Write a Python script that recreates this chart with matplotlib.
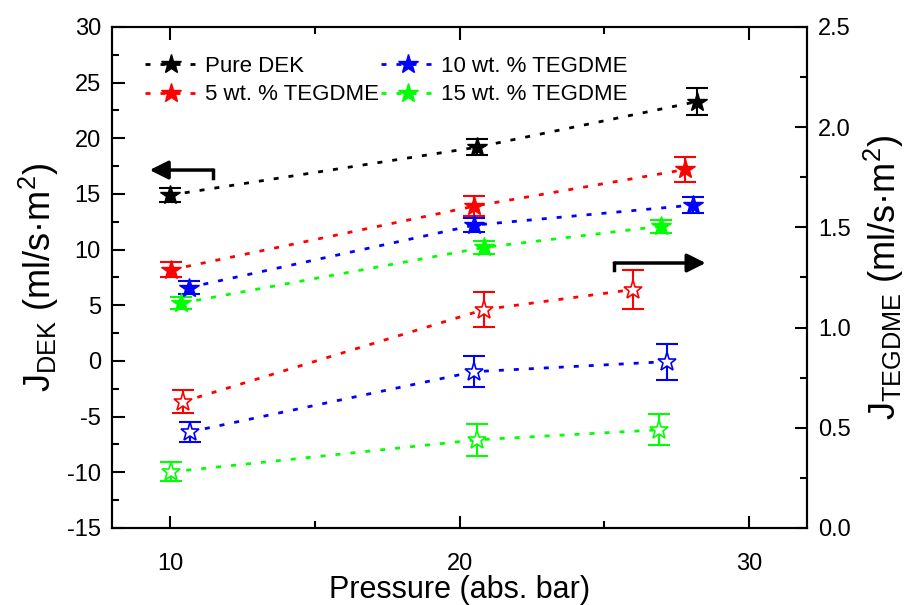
import matplotlib
matplotlib.use("Agg")
import matplotlib.pyplot as plt
from matplotlib.ticker import MultipleLocator

plt.rcParams["font.family"] = ["Liberation Sans", "DejaVu Sans"]
plt.rcParams["mathtext.fontset"] = "custom"
plt.rcParams["mathtext.rm"] = "Liberation Sans"
plt.rcParams["mathtext.default"] = "regular"
plt.rcParams["axes.unicode_minus"] = False

labels = ["Pure DEK", "5 wt. % TEGDME", "10 wt. % TEGDME", "15 wt. % TEGDME"]
colors = ["black", "red", "blue", "#00ff00"]

# DEK flux, filled stars, left axis
p_dek = [[10.0, 20.6, 28.2], [10.05, 20.5, 27.8], [10.65, 20.5, 28.05], [10.4, 20.85, 26.95]]
j_dek = [[14.9, 19.2, 23.3], [8.2, 13.9, 17.2], [6.6, 12.2, 14.0], [5.2, 10.2, 12.1]]
err_dek = [[0.6, 0.7, 1.2], [0.7, 0.9, 1.1], [0.6, 0.6, 0.75], [0.55, 0.6, 0.6]]

# TEGDME flux, open stars, right axis (5, 10, 15 wt. %)
p_teg = [[10.45, 20.85, 26.0], [10.7, 20.5, 27.15], [10.05, 20.6, 26.9]]
j_teg = [[0.63, 1.09, 1.19], [0.48, 0.78, 0.83], [0.28, 0.44, 0.49]]
err_teg = [[0.057, 0.087, 0.095], [0.05, 0.077, 0.09], [0.047, 0.08, 0.077]]

fig = plt.figure(figsize=(9.12, 6.05), dpi=100)
ax = fig.add_axes([0.1228, 0.1273, 0.7621, 0.8281])
ax2 = ax.twinx()

dots = (1.8, 3.6)

for p, j, e, c, lab in zip(p_dek, j_dek, err_dek, colors, labels):
    ax.errorbar(p, j, yerr=e, fmt="none", ecolor=c, elinewidth=1.5,
                capsize=8, capthick=1.5, zorder=3)
    ax.plot(p, j, color=c, lw=2, dashes=dots, marker="*", markersize=15,
            markerfacecolor=c, markeredgecolor=c, label=lab, zorder=4)

for p, j, e, c in zip(p_teg, j_teg, err_teg, colors[1:]):
    ax2.errorbar(p, j, yerr=e, fmt="none", ecolor=c, elinewidth=1.5,
                 capsize=8, capthick=1.5, zorder=3)
    ax2.plot(p, j, color=c, lw=2, dashes=dots, marker="*", markersize=14,
             markerfacecolor="white", markeredgecolor=c, markeredgewidth=1.2,
             zorder=4)

ax.set_xlim(8, 32)
ax.set_ylim(-15, 30)
ax2.set_ylim(0, 2.5)

ax.xaxis.set_major_locator(MultipleLocator(10))
ax.xaxis.set_minor_locator(MultipleLocator(5))
ax.yaxis.set_major_locator(MultipleLocator(5))
ax.yaxis.set_minor_locator(MultipleLocator(2.5))
ax2.yaxis.set_major_locator(MultipleLocator(0.5))
ax2.yaxis.set_minor_locator(MultipleLocator(0.25))
ax2.yaxis.set_major_formatter(plt.FormatStrFormatter("%.1f"))

ax.tick_params(which="both", direction="in", top=True, right=False,
               width=1.5, labelsize=17, pad=8)
ax.tick_params(axis="x", which="both", pad=18)
ax.tick_params(which="major", length=9)
ax.tick_params(which="minor", length=5)
ax2.tick_params(which="both", direction="in", width=1.5, labelsize=17, pad=8)
ax2.tick_params(which="major", length=9)
ax2.tick_params(which="minor", length=5)

for a in (ax, ax2):
    for s in a.spines.values():
        s.set_linewidth(1.5)

ax.set_xlabel("Pressure (abs. bar)", fontsize=22, labelpad=0)
ax.set_ylabel("J$_{DEK}$ (ml/s·m$^{2}$)", fontsize=26, labelpad=4)
ax2.set_ylabel("J$_{TEGDME}$ (ml/s·m$^{2}$)", fontsize=26, labelpad=8,
               rotation=90)

# arrows pointing to the axis each group belongs to
arrow = dict(arrowstyle="-|>", lw=2.5, color="black", mutation_scale=28,
             shrinkA=0, shrinkB=0)
ax.annotate("", xy=(9.3, 17.15), xytext=(11.5, 17.15), arrowprops=arrow)
ax.plot([11.5, 11.5], [17.15, 16.4], color="black", lw=2.5)
ax.annotate("", xy=(28.5, 8.8), xytext=(25.35, 8.8), arrowprops=arrow)
ax.plot([25.35, 25.35], [8.8, 8.15], color="black", lw=2.5)

ax.legend(loc="upper left", bbox_to_anchor=(0.047, 0.943), ncol=2,
          frameon=False, fontsize=16, numpoints=1, handlelength=2.4,
          handletextpad=0.3, columnspacing=0.1, labelspacing=0.35,
          borderpad=0, borderaxespad=0)

fig.savefig("out.png", dpi=100)
